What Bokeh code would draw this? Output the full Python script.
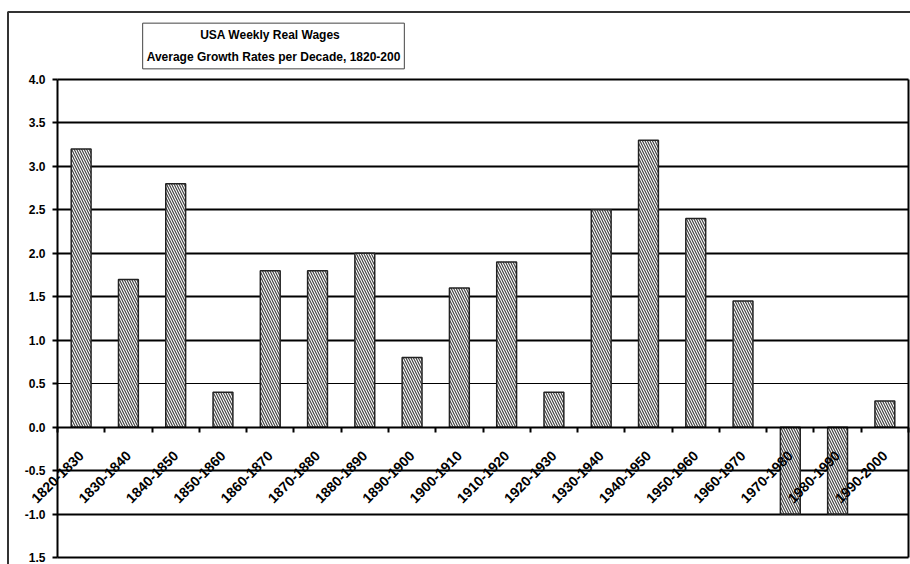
import math
from bokeh.plotting import figure
from bokeh.models import FixedTicker, Label, Range1d, Grid, LinearAxis, BoxAnnotation
from bokeh.embed import file_html
from bokeh.resources import INLINE

# ---- data ----
decades = ["1820-1830", "1830-1840", "1840-1850", "1850-1860", "1860-1870",
           "1870-1880", "1880-1890", "1890-1900", "1900-1910", "1910-1920",
           "1920-1930", "1930-1940", "1940-1950", "1950-1960", "1960-1970",
           "1970-1980", "1980-1990", "1990-2000"]
growth = [3.2, 1.7, 2.8, 0.4, 1.8, 1.8, 2.0, 0.8, 1.6, 1.9,
          0.4, 2.5, 3.3, 2.4, 1.45, -1.0, -1.0, 0.3]
y_ticks = [-1.5, -1.0, -0.5, 0.0, 0.5, 1.0, 1.5, 2.0, 2.5, 3.0, 3.5, 4.0]
y_tick_labels = ["1.5", "-1.0", "-0.5", "0.0", "0.5", "1.0", "1.5",
                 "2.0", "2.5", "3.0", "3.5", "4.0"]
thin_grid = [0.5]
title_lines = ["USA  Weekly Real  Wages",
               "Average Growth Rates per Decade, 1820-200"]

n = len(decades)
centers = [i + 0.5 for i in range(n)]
boundaries = list(range(0, n + 1))
y_lo, y_hi = y_ticks[0], y_ticks[-1]

# ---- layout geometry (pixels) ----
W, H = 910, 564
PL, PR, PT, PB = 57, 908, 79, 557      # plot area edges
xs = (PR - PL) / n                      # px per category
ys = (PB - PT) / (y_hi - y_lo)          # px per unit

FONT = "Liberation Sans"

# the frame covers the whole canvas; the plot area is drawn inside it
p = figure(width=W, height=H, output_backend="svg", toolbar_location=None,
           title=None,
           x_range=Range1d(-PL / xs, n + (W - PR) / xs),
           y_range=Range1d(y_lo - (H - PB) / ys, y_hi + PT / ys),
           min_border=0, background_fill_color="white",
           border_fill_color="white")
p.outline_line_color = None

# outer chart border (only its left and top edges are in view)
p.add_layout(BoxAnnotation(left=(7.5 - PL) / xs, top=y_hi + (PT - 11.5) / ys,
                           right=n + 20, bottom=y_lo - 20,
                           fill_color=None, fill_alpha=0,
                           line_color="#333333", line_alpha=1.0,
                           line_width=2, level="underlay"))

# grids
p.xgrid.visible = False
thick = [t for t in y_ticks if t not in thin_grid and t != 0.0]
p.ygrid.ticker = FixedTicker(ticks=thick)
p.ygrid.grid_line_color = "black"
p.ygrid.grid_line_width = 2
p.ygrid.cross_bounds = (0, n)
g2 = Grid(dimension=1, ticker=FixedTicker(ticks=thin_grid),
          grid_line_color="black", grid_line_width=1, cross_bounds=(0, n))
p.add_layout(g2, "center")

# bars
p.vbar(x=centers, top=growth, bottom=0, width=0.42,
       fill_color="white", line_color="#222222", line_width=1.5,
       hatch_pattern="\\", hatch_color="#444444", hatch_scale=5,
       hatch_weight=1.2)

# x axis at zero: ticks between categories
xa = p.xaxis[0]
xa.ticker = FixedTicker(ticks=boundaries)
xa.fixed_location = 0
xa.bounds = (0, n)
xa.major_label_text_color = None
xa.major_label_text_font_size = "0px"
xa.axis_line_color = "black"
xa.axis_line_width = 2
xa.major_tick_out = 5
xa.major_tick_in = 0
xa.major_tick_line_width = 2
xa.minor_tick_line_color = None

# category labels, rotated, hanging below the zero line
xl = LinearAxis(fixed_location=0, ticker=FixedTicker(ticks=centers),
                major_label_overrides=dict(zip(centers, decades)),
                major_label_orientation=math.pi / 4,
                major_label_standoff=20,
                major_label_text_font=FONT,
                major_label_text_font_style="bold",
                major_label_text_font_size="14px",
                major_label_text_color="black",
                axis_line_color=None, major_tick_line_color=None,
                minor_tick_line_color=None)
p.add_layout(xl, "below")

# y axis at the left edge of the plot area
ya = p.yaxis[0]
ya.fixed_location = 0
ya.bounds = (y_lo, y_hi)
ya.ticker = FixedTicker(ticks=y_ticks)
ya.major_label_overrides = dict(zip(y_ticks, y_tick_labels))
ya.major_label_text_font = FONT
ya.major_label_text_font_style = "bold"
ya.major_label_text_font_size = "12px"
ya.major_label_text_color = "black"
ya.major_label_standoff = 7
ya.axis_line_color = "black"
ya.axis_line_width = 2
ya.major_tick_out = 5
ya.major_tick_in = 0
ya.major_tick_line_width = 2
ya.minor_tick_line_color = None

# right border of the plot area
yr = LinearAxis(fixed_location=n, bounds=(y_lo, y_hi),
                ticker=FixedTicker(ticks=[]), axis_line_color="black",
                axis_line_width=2, major_tick_line_color=None,
                minor_tick_line_color=None, major_label_text_color=None)
p.add_layout(yr, "right")

# title box
title = Label(x=(273 - PL) / xs, y=y_hi + (PT - 45.5) / ys,
              x_units="data", y_units="data",
              text="\n".join(title_lines), text_align="center",
              text_baseline="middle",
              text_font=FONT, text_font_style="bold", text_font_size="12px",
              text_line_height=1.55, text_color="black",
              border_line_color="#444444", border_line_width=1,
              background_fill_color="white", padding=(4, 5))
p.add_layout(title)

open("out.html", "w").write(file_html(p, INLINE))
